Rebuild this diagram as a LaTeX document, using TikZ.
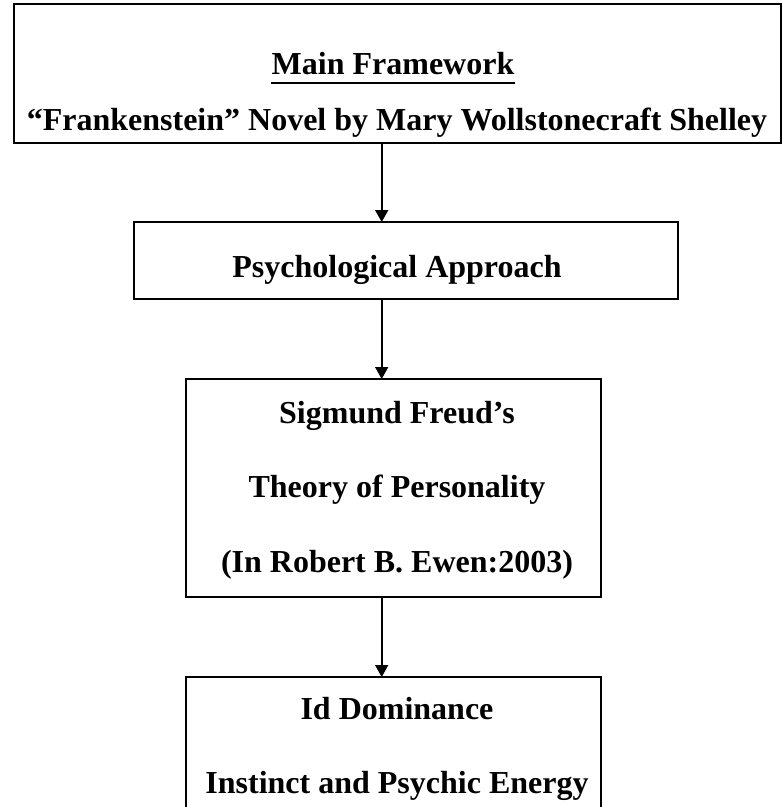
\documentclass[tikz,border=0pt]{standalone}
\usepackage{fontspec}
\setmainfont{Liberation Serif}
\usetikzlibrary{arrows.meta, positioning}

\tikzset{
    stage/.style={draw=black, line width=2pt, inner sep=0pt, outer sep=0pt},
    caption/.style={font=\fontsize{32}{38}\selectfont\bfseries, anchor=base, inner sep=0pt},
    flow/.style={-{Triangle[length=12pt, width=13pt]}, line width=1.8pt}
}

\begin{document}
\begin{tikzpicture}[x=1pt, y=-1pt]

    \pgfmathsetmacro{\spinex}{381.7}
    \pgfmathsetmacro{\midx}{397}

    \path[use as bounding box] (0,0) rectangle (783,807);
    \clip (0,0) rectangle (783,807);

    \node[stage, minimum width=767pt, minimum height=139pt] (framework) at (397.5, 73.5) {};
    \node[stage, minimum width=544pt, minimum height=77pt] (approach) at (406, 260.5) {};
    \node[stage, minimum width=415pt, minimum height=218pt] (theory) at (393.5, 488) {};
    \node[stage, minimum width=415pt, minimum height=153pt] (dominance) at (393.5, 753.5) {};

    \node[caption] (main) at (393, 74) {Main Framework};
    \draw[line width=2.8pt] ([yshift=-9pt]main.base west) -- ([yshift=-9pt]main.base east);
    \node[caption] (novel) at (\midx, 130) {“Frankenstein” Novel by Mary Wollstonecraft Shelley};

    \node[caption] (psych) at (\midx, 277) {Psychological Approach};

    \node[caption] (freud) at (\midx, 423) {Sigmund Freud’s};
    \node[caption] (personality) at (\midx, 497) {Theory of Personality};
    \node[caption] (ewen) at (\midx, 572) {(In Robert B. Ewen:2003)};

    \node[caption] (id) at (\midx, 719) {Id Dominance};
    \node[caption] (instinct) at (\midx, 793) {Instinct and Psychic Energy};

    \coordinate (spine) at (\spinex, 0);
    \draw[flow] (framework.south -| spine) -- (approach.north -| spine);
    \draw[flow] (approach.south -| spine) -- (theory.north -| spine);
    \draw[flow] (theory.south -| spine) -- (dominance.north -| spine);

\end{tikzpicture}
\end{document}
